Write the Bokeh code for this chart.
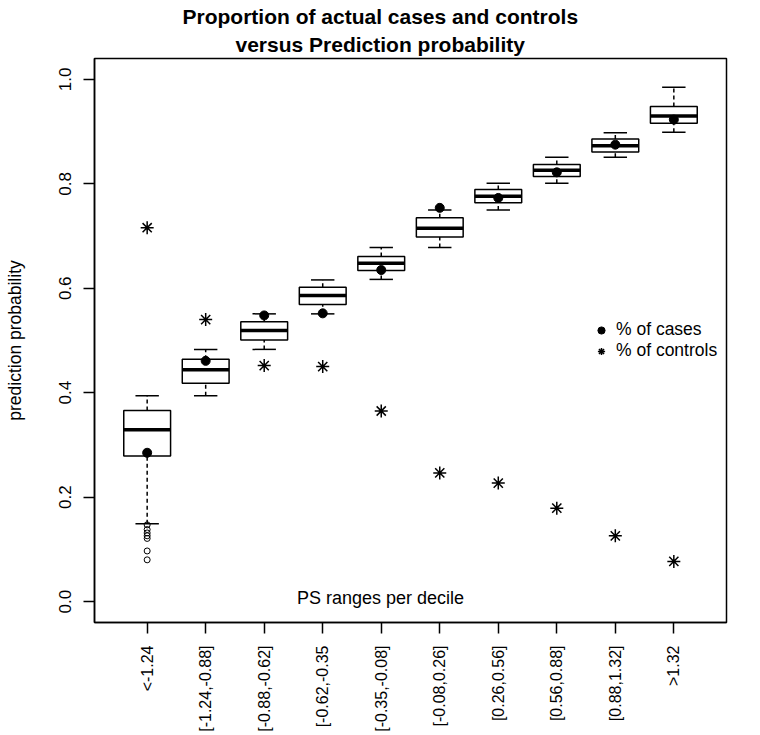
import math
from bokeh.plotting import figure
from bokeh.models import Range1d, FixedTicker, Title, Legend, LegendItem, ColumnDataSource
from bokeh.embed import file_html
from bokeh.resources import INLINE
from bokeh.core.properties import value

# ---------------- data ----------------
categories = ["<-1.24", "[-1.24,-0.88]", "[-0.88,-0.62]", "[-0.62,-0.35", "[-0.35,-0.08]",
              "[-0.08,0.26]", "[0.26,0.56]", "[0.56,0.88]", "[0.88,1.32]", ">1.32"]
whisker_low = [0.149, 0.394, 0.483, 0.551, 0.617, 0.678, 0.750, 0.801, 0.851, 0.899]
q1 = [0.279, 0.418, 0.501, 0.569, 0.634, 0.698, 0.764, 0.814, 0.861, 0.916]
median = [0.329, 0.444, 0.519, 0.586, 0.648, 0.715, 0.776, 0.826, 0.873, 0.930]
q3 = [0.366, 0.464, 0.536, 0.602, 0.661, 0.735, 0.789, 0.837, 0.886, 0.948]
whisker_high = [0.394, 0.483, 0.551, 0.616, 0.678, 0.750, 0.801, 0.851, 0.898, 0.985]
pct_cases = [0.285, 0.461, 0.548, 0.552, 0.635, 0.754, 0.773, 0.822, 0.875, 0.923]
pct_controls = [0.716, 0.540, 0.452, 0.450, 0.365, 0.2465, 0.227, 0.179, 0.126, 0.077]
outliers_group1 = [0.147, 0.138, 0.1315, 0.126, 0.121, 0.097, 0.080]
y_ticks = [0.0, 0.2, 0.4, 0.6, 0.8, 1.0]
y_tick_labels = ["0.0", "0.2", "0.4", "0.6", "0.8", "1.0"]
title_lines = ["Proportion of actual cases and controls", "versus Prediction probability"]
x_title = "PS ranges per decile"
y_title = "prediction probability"
legend_labels = ["% of cases", "% of controls"]

FONT = "Liberation Sans"
xs = list(range(1, len(categories) + 1))
BOX_HALF = 0.4
CAP_HALF = 0.2

p = figure(width=760, height=735, frame_width=632, frame_height=564,
           x_range=Range1d(0.1, 10.9), y_range=Range1d(-0.04, 1.04),
           output_backend="svg", toolbar_location=None,
           min_border_left=94, min_border_right=34, min_border_top=58, min_border_bottom=113)
p.xgrid.visible = False
p.ygrid.visible = False
p.outline_line_color = "black"
p.outline_line_width = 1.5
p.background_fill_color = "white"
p.border_fill_color = "white"

src = ColumnDataSource(dict(
    x=xs, left=[x - BOX_HALF for x in xs], right=[x + BOX_HALF for x in xs],
    cl=[x - CAP_HALF for x in xs], cr=[x + CAP_HALF for x in xs],
    lo=whisker_low, q1=q1, med=median, q3=q3, hi=whisker_high,
    cases=pct_cases, controls=pct_controls))

# whiskers (dashed)
p.segment(x0="x", y0="q3", x1="x", y1="hi", source=src, line_color="black", line_width=1.5, line_dash="4 3")
p.segment(x0="x", y0="lo", x1="x", y1="q1", source=src, line_color="black", line_width=1.5, line_dash="4 3")
# caps
p.segment(x0="cl", y0="hi", x1="cr", y1="hi", source=src, line_color="black", line_width=1.5)
p.segment(x0="cl", y0="lo", x1="cr", y1="lo", source=src, line_color="black", line_width=1.5)
# boxes
p.quad(left="left", right="right", bottom="q1", top="q3", source=src,
       fill_color="white", line_color="black", line_width=1.5)
# medians
p.segment(x0="left", y0="med", x1="right", y1="med", source=src, line_color="black", line_width=3.5)
# outliers
p.scatter(x=[xs[0]] * len(outliers_group1), y=outliers_group1, marker="circle", size=6,
          fill_color=None, line_color="black", line_width=1)

r_cases = p.scatter(x="x", y="cases", source=src, marker="circle", size=9,
                    fill_color="black", line_color="black")
r_ctrl = p.scatter(x="x", y="controls", source=src, marker="asterisk", size=13,
                   line_color="black", line_width=1.5)

legend = Legend(items=[LegendItem(label=legend_labels[0], renderers=[r_cases]),
                       LegendItem(label=legend_labels[1], renderers=[r_ctrl])],
                location=(498, 261), padding=0, margin=0, spacing=0,
                glyph_width=18, glyph_height=20, label_height=20, label_standoff=6,
                border_line_alpha=0, background_fill_alpha=0,
                label_text_font=FONT, label_text_font_size="17.5px", label_text_color="black")
p.add_layout(legend)

# "PS ranges per decile" in plot
p.text(x=[4.987], y=[0.006], text=[x_title], text_font=value(FONT), text_font_size="18px",
       text_align="center", text_baseline="middle", text_color="black")

# titles (second line added first: nearest to frame)
p.add_layout(Title(text=title_lines[1], align="left", offset=141, standoff=6,
                   text_font=FONT, text_font_size="21px", text_font_style="bold",
                   text_color="black"), "above")
p.add_layout(Title(text=title_lines[0], align="left", offset=88, standoff=0,
                   text_font=FONT, text_font_size="21px", text_font_style="bold",
                   text_color="black"), "above")

# axes
p.xaxis.ticker = FixedTicker(ticks=xs)
p.xaxis.major_label_overrides = {x: c for x, c in zip(xs, categories)}
p.xaxis.major_label_orientation = math.pi / 2
p.yaxis.ticker = FixedTicker(ticks=y_ticks)
p.yaxis.major_label_overrides = {t: l for t, l in zip(y_ticks, y_tick_labels)}
p.yaxis.major_label_orientation = "vertical"
p.yaxis.axis_label = y_title
for ax in (p.xaxis[0], p.yaxis[0]):
    ax.major_tick_out = 11
    ax.major_tick_in = 0
    ax.minor_tick_out = 0
    ax.minor_tick_in = 0
    ax.axis_line_color = "black"
    ax.axis_line_width = 1.5
    ax.major_tick_line_color = "black"
    ax.major_tick_line_width = 1.5
    ax.major_label_text_font = FONT
    ax.major_label_text_font_size = "17px"
    ax.major_label_text_color = "black"
    ax.axis_label_text_font = FONT
    ax.axis_label_text_font_size = "17.5px"
    ax.axis_label_text_font_style = "normal"
    ax.axis_label_text_color = "black"
p.xaxis.major_label_text_font_size = "16px"
p.xaxis.major_label_standoff = 12
p.yaxis.major_label_standoff = 12
p.yaxis.axis_label_standoff = 32

open("out.html", "w").write(file_html(p, INLINE))
